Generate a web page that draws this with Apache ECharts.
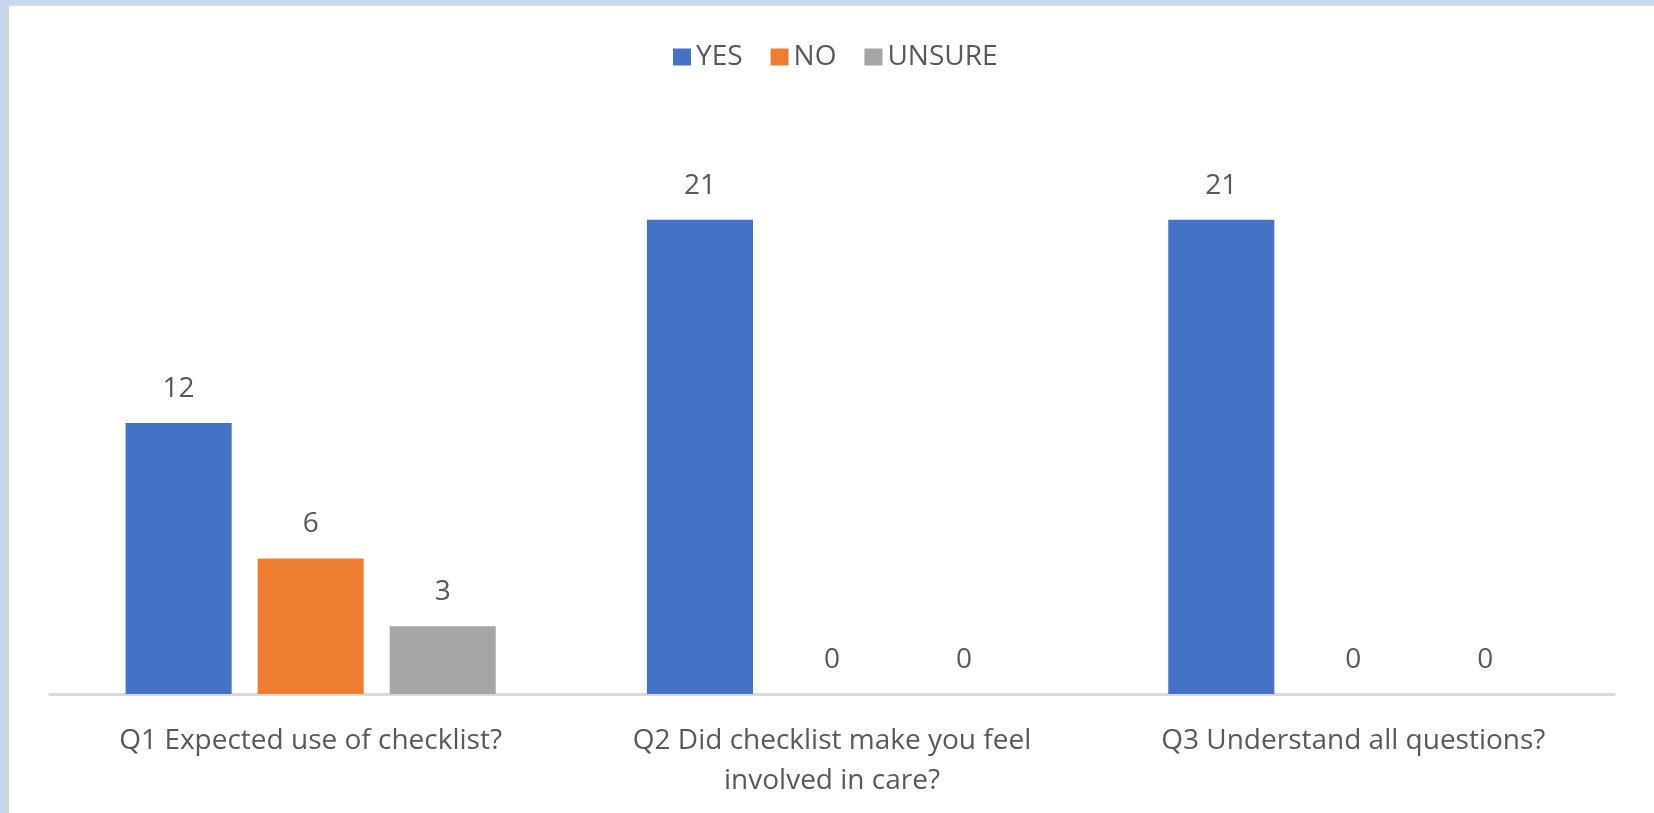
<!DOCTYPE html>
<html>
<head>
<meta charset="utf-8">
<script src="https://cdn.jsdelivr.net/npm/echarts@6/dist/echarts.min.js"></script>
<style>
  html, body { margin: 0; padding: 0; width: 1654px; height: 813px; overflow: hidden; background: #c6d8ef; }
  #frame { position: absolute; left: 6px; top: 4px; right: 0; bottom: 0; background: #ffffff;
           border-left: 3px solid #d5d5d5; border-top: 2px solid #dadada; }
  #chart { position: absolute; left: 0; top: 0; width: 1654px; height: 813px; }
</style>
</head>
<body>
<div id="frame"></div>
<div id="chart"></div>
<script>
const categories = [
  'Q1 Expected use of checklist?',
  'Q2 Did checklist make you feel\ninvolved in care?',
  'Q3 Understand all questions?'
];
const seriesNames = ['YES', 'NO', 'UNSURE'];
const yesValues = [12, 21, 21];
const noValues = [6, 0, 0];
const unsureValues = [3, 0, 0];
const colors = ['#4472c4', '#ed7d31', '#a5a5a5'];

const textColor = '#595959';
const fontFamily = '"Open Sans", "Noto Sans", sans-serif';

function makeSeries(name, data, color) {
  return {
    name: name,
    type: 'bar',
    data: data,
    itemStyle: { color: color },
    barGap: '24.5%',
    barCategoryGap: '29%',
    label: {
      show: true,
      position: 'top',
      distance: 20,
      color: textColor,
      fontSize: 28,
      fontFamily: fontFamily
    },
    emphasis: { disabled: true }
  };
}

const chart = echarts.init(document.getElementById('chart'), null, { renderer: 'canvas' });
chart.setOption({
  backgroundColor: 'transparent',
  animation: false,
  color: colors,
  legend: {
    data: seriesNames,
    top: 38,
    left: 668,
    icon: 'rect',
    itemWidth: 18,
    itemHeight: 17,
    itemGap: 28,
    textStyle: { color: textColor, fontSize: 28, fontFamily: fontFamily }
  },
  grid: { left: 50, right: 40, top: 152, bottom: 119, containLabel: false },
  xAxis: {
    type: 'category',
    data: categories,
    axisLine: { lineStyle: { color: '#d9d9d9', width: 3 } },
    axisTick: { show: false },
    axisLabel: {
      color: textColor,
      fontSize: 28,
      fontFamily: fontFamily,
      lineHeight: 40,
      margin: 27,
      interval: 0
    }
  },
  yAxis: {
    type: 'value',
    min: 0,
    max: 24,
    show: false,
    splitLine: { show: false }
  },
  series: [
    makeSeries(seriesNames[0], yesValues, colors[0]),
    makeSeries(seriesNames[1], noValues, colors[1]),
    makeSeries(seriesNames[2], unsureValues, colors[2])
  ]
});
</script>
</body>
</html>
